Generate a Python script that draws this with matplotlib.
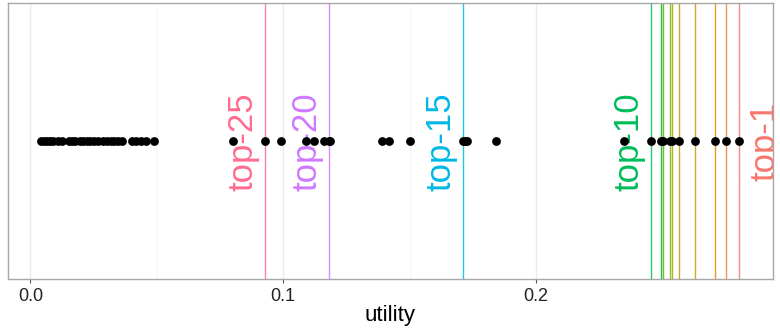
import numpy as np
import matplotlib
matplotlib.use("Agg")
import matplotlib.pyplot as plt
import matplotlib.transforms as mtransforms

# utility score of each candidate
utility = [
    0.2802, 0.2751, 0.2709, 0.2629, 0.2567, 0.2537, 0.2532, 0.2502, 0.2496, 0.2454,
    0.2348, 0.1842, 0.1729, 0.1719, 0.1713, 0.1502, 0.1420, 0.1390, 0.1184, 0.1182,
    0.1161, 0.1122, 0.1090, 0.0990, 0.0926, 0.0800,
    0.0490, 0.0459, 0.0439, 0.0419, 0.0400,
    0.0364, 0.0348, 0.0332, 0.0317, 0.0301, 0.0285, 0.0269, 0.0253, 0.0237, 0.0222,
    0.0206, 0.0194, 0.0178, 0.0166, 0.0154,
    0.0123, 0.0107, 0.0091, 0.0079, 0.0064, 0.0052, 0.0042,
]
# cut-offs drawn as vertical lines, and the ones that get a text label
top_ranks = [1, 2, 3, 4, 5, 6, 7, 8, 9, 10, 15, 20, 25]
labelled_ranks = [1, 10, 15, 20, 25]
n_hues = 25
x_ticks = [0.0, 0.1, 0.2]
x_tick_labels = ["0.0", "0.1", "0.2"]


def hcl(h, c=100.0, l=65.0):
    """Polar CIE-LUV to sRGB hex, like R's hcl()."""
    hr = np.deg2rad(h)
    u, v = c * np.cos(hr), c * np.sin(hr)
    xn, yn, zn = 95.047, 100.0, 108.883
    un = 4 * xn / (xn + 15 * yn + 3 * zn)
    vn = 9 * yn / (xn + 15 * yn + 3 * zn)
    Y = yn * ((l + 16) / 116) ** 3 if l > 8 else yn * l / 903.3
    up = u / (13 * l) + un
    vp = v / (13 * l) + vn
    X = 9.0 * Y * up / (4 * vp)
    Z = -X / 3 - 5 * Y + 3 * Y / vp
    xyz = np.array([X, Y, Z]) / 100.0
    m = np.array([[3.240479, -1.537150, -0.498535],
                  [-0.969256, 1.875992, 0.041556],
                  [0.055648, -0.204043, 1.057311]])
    rgb = m @ xyz
    rgb = np.where(rgb > 0.00304, 1.055 * np.power(np.clip(rgb, 1e-9, None), 1 / 2.4) - 0.055, 12.92 * rgb)
    rgb = np.clip(rgb, 0, 1)
    return "#%02x%02x%02x" % tuple(int(round(x * 255)) for x in rgb)


hues = 15 + 360 * np.arange(n_hues) / n_hues
palette = [hcl(h) for h in hues]

plt.rcParams["font.family"] = ["Liberation Sans", "DejaVu Sans"]

fig = plt.figure(figsize=(7.8, 3.3), dpi=100)
W, H = 780, 330
ax = fig.add_axes([7.5 / W, (H - 279.3) / H, (773 - 7.5) / W, (279.3 - 3.3) / H])

ax.set_xlim(-0.0091, 0.2938)
ax.set_ylim(-1, 1)

# faint grid: majors at ticks, minors halfway
for x in x_ticks:
    ax.axvline(x, color="#EBEBEB", lw=1.0, zorder=0)
for x in [0.05, 0.15, 0.25]:
    ax.axvline(x, color="#F4F4F4", lw=0.6, zorder=0)

ranked = np.sort(np.asarray(utility))[::-1]

for k in top_ranks:
    ax.axvline(ranked[k - 1], color=palette[k - 1], lw=1.0, alpha=0.85, zorder=1)

ax.scatter(utility, np.zeros(len(utility)), s=40, color="black", zorder=3,
           linewidths=0)

for k in labelled_ranks:
    dx = 26 if k == 1 else -22
    off = mtransforms.ScaledTranslation(dx / 100, 0, fig.dpi_scale_trans)
    ax.text(ranked[k - 1], 0, f"top-{k}", rotation=90, ha="center", va="center",
            fontsize=25, color=palette[k - 1], transform=ax.transData + off,
            clip_on=True, zorder=2)

ax.set_yticks([])
ax.set_xticks(x_ticks)
ax.set_xticklabels(x_tick_labels, fontsize=13, color="#222222")
ax.tick_params(axis="x", length=3, width=0.8, color="#555555", pad=3)
ax.set_xlabel("utility", fontsize=16, labelpad=0)

for sp in ax.spines.values():
    sp.set_color("#A8A8A8")
    sp.set_linewidth(1.0)

fig.savefig("out.png", dpi=100)
